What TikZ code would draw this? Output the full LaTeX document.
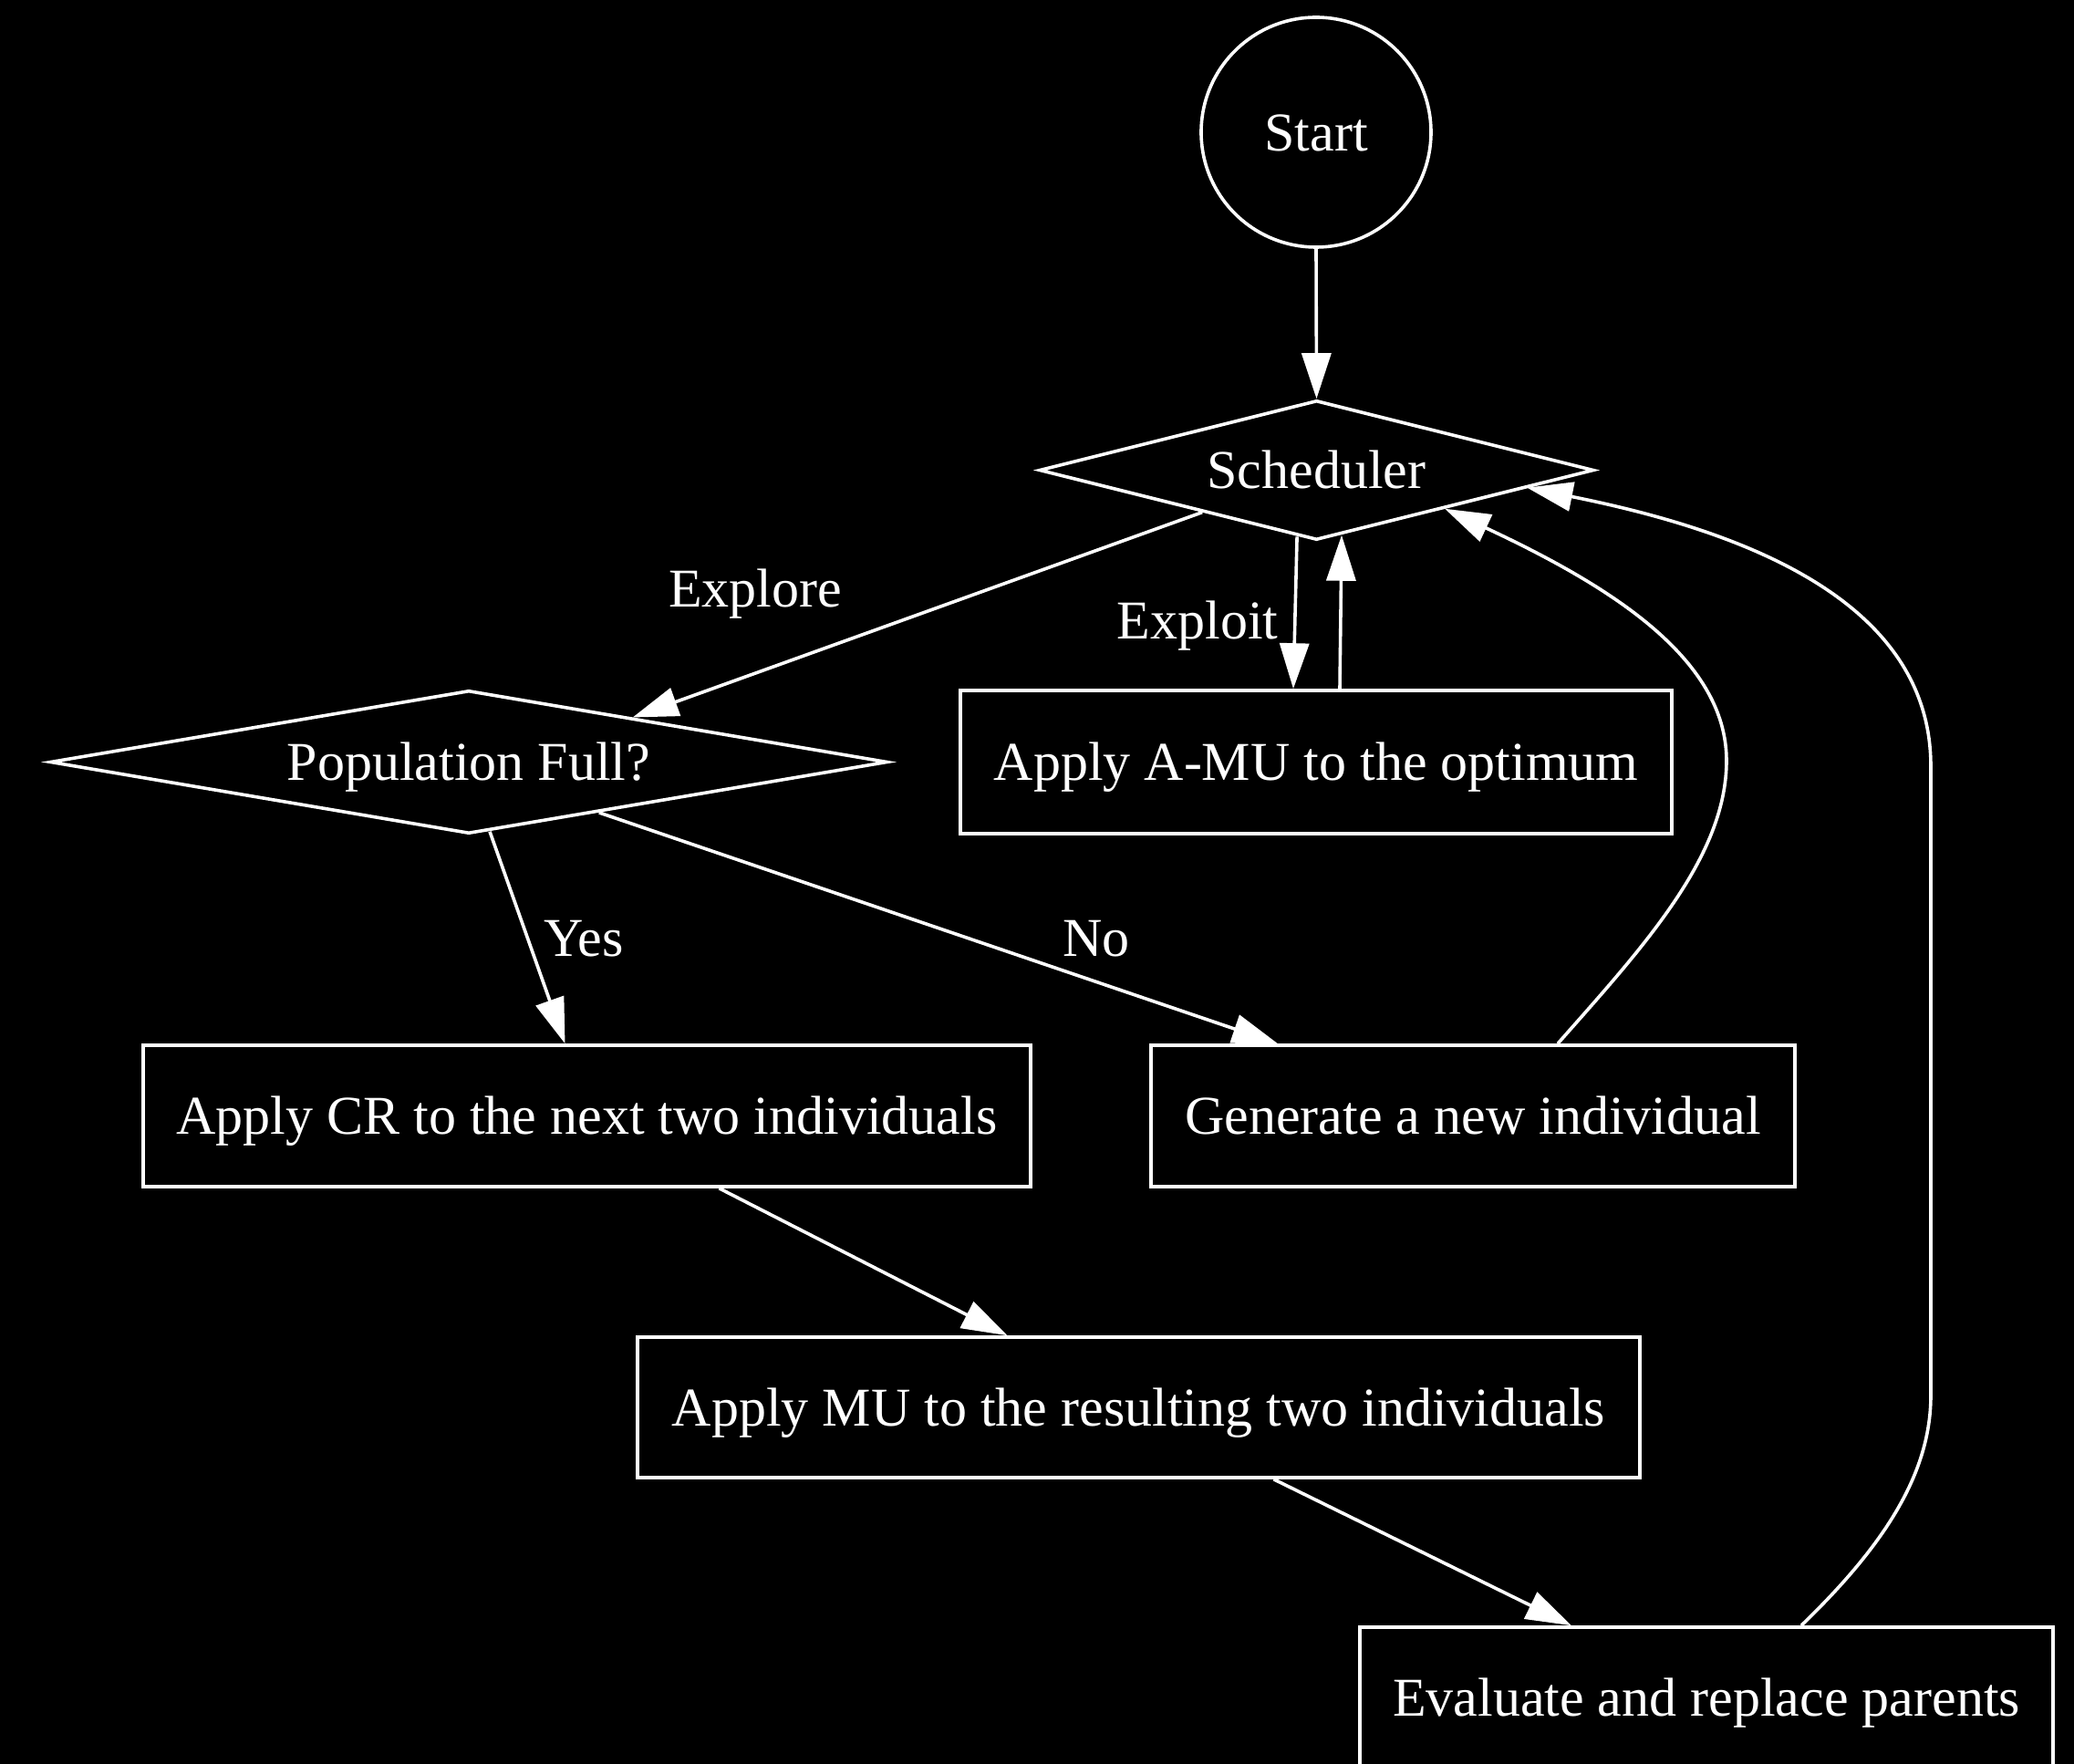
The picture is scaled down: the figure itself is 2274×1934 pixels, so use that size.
\documentclass[tikz,border=0pt]{standalone}
\usepackage{fontspec}
\setmainfont{Liberation Serif}
\usetikzlibrary{shapes.geometric,arrows.meta,calc}
\begin{document}
\begin{tikzpicture}[x=0.25pt,y=-0.25pt,
  every node/.style={text=white, font=\fontsize{15}{18}\selectfont, text height=13.5pt, text depth=3.3pt},
  box/.style={draw=white, line width=0.9pt, rectangle, inner sep=0pt, minimum height=38.75pt},
  dec/.style={draw=white, line width=0.9pt, diamond, inner sep=0pt},
  flow/.style={draw=white, line width=0.9pt, -{Triangle[length=12.5pt,width=8pt]}},
  lbl/.style={inner sep=0pt}]

% canvas
\fill[black] (0,0) rectangle (2274,1934);
\useasboundingbox (0,0) rectangle (2274,1934);
\clip (0,0) rectangle (2274,1934);

% nodes
\node[draw=white, line width=0.9pt, circle, minimum size=63pt, inner sep=0pt] (start) at (1443,145) {Start};
\node[dec, shape aspect=4, minimum width=152pt, minimum height=38.25pt] (sched) at (1443.5,515.5) {Scheduler};
\node[dec, shape aspect=5.9, minimum width=229.5pt, minimum height=39.25pt] (pop) at (514,835.5) {Population Full?};
\node[box, minimum width=195pt, minimum height=39.25pt] (amu) at (1443,835.5) {Apply A-MU to the optimum};
\node[box, minimum width=243.25pt] (cr) at (643.5,1223.5) {Apply CR to the next two individuals};
\node[box, minimum width=176.5pt] (gen) at (1615,1223.5) {Generate a new individual};
\node[box, minimum width=274.75pt, minimum height=38.5pt] (mu) at (1248.5,1543) {Apply MU to the resulting two individuals};
\node[box, minimum width=190pt] (eval) at (1871,1861.5) {Evaluate and replace parents};

% connectors
\draw[flow] (start.south) -- (sched.north);
\draw[flow] ($(sched.west)!0.59!(sched.south)$) -- ($(pop.north)!0.39!(pop.east)$);
\draw[flow] ($(sched.west)!0.93!(sched.south)$) -- ($(amu.north)+(-25,0)$);
\draw[flow] ($(amu.north)+(26,0)$) -- ($(sched.south)!0.09!(sched.east)$);
\draw[flow] ($(pop.south)!0.05!(pop.east)$) -- ($(cr.north)+(-24,0)$);
\draw[flow] ($(pop.south)!0.31!(pop.east)$) -- ($(gen.north)+(-214,0)$);
\draw[flow] ($(cr.south)+(145,0)$) -- ($(mu.north)+(-144,0)$);
\draw[flow] ($(mu.south)+(148,0)$) -- ($(eval.north)+(-148,0)$);
\draw[flow] ($(gen.north)+(93,0)$) .. controls (1800,1040) and (1893,940) .. (1893,834)
  .. controls (1893,720) and (1760,640) .. ($(sched.south)!0.46!(sched.east)$);
\draw[flow] ($(eval.north)+(104,0)$) .. controls (2060,1700) and (2117,1620) .. (2117,1530)
  -- (2117,840) .. controls (2117,650) and (1890,578) .. ($(sched.south)!0.755!(sched.east)$);

% edge labels
\node[lbl] (lexplore) at (828,645) {Explore};
\node[lbl] (lexploit) at (1313,680) {Exploit};
\node[lbl] (lyes) at (640,1028) {Yes};
\node[lbl] (lno) at (1202,1028) {No};
\end{tikzpicture}
\end{document}
